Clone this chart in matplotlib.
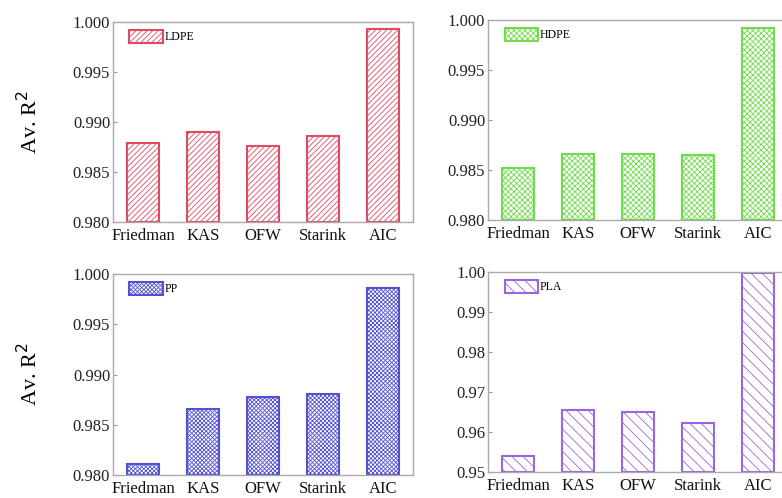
import matplotlib
matplotlib.use("Agg")
import matplotlib.pyplot as plt

plt.rcParams['font.family'] = ['Liberation Serif', 'DejaVu Serif']
plt.rcParams['hatch.linewidth'] = 0.6

metodos = ["Friedman", "KAS", "OFW", "Starink", "AIC"]

ldpe = [0.9879, 0.9890, 0.9876, 0.9886, 0.9993]
hdpe = [0.9852, 0.9866, 0.9866, 0.9865, 0.9992]
pp = [0.9811, 0.9866, 0.9878, 0.9881, 0.9986]
pla = [0.9540, 0.9656, 0.9650, 0.9623, 0.9998]

W, H = 782, 498
fig = plt.figure(figsize=(W / 100, H / 100), dpi=100)
serif = ['Liberation Serif', 'DejaVu Serif']


def caja(x0, x1, y0, y1):
    # pixeles -> fraccion de figura
    return [x0 / W, 1 - y1 / H, (x1 - x0) / W, (y1 - y0) / H]


paneles = [
    (caja(113, 413, 22, 222), ldpe, "LDPE", "#e24a64", "//////", (0.980, 1.000), 0.005, "%.3f", True),
    (caja(488, 788, 20, 220), hdpe, "HDPE", "#6fdc4c", "xxxxxx", (0.980, 1.000), 0.005, "%.3f", False),
    (caja(113, 413, 274, 475), pp, "PP", "#5252d2", "xxxxxxxx", (0.980, 1.000), 0.005, "%.3f", True),
    (caja(488, 788, 272, 472), pla, "PLA", "#9966df", "\\\\\\", (0.950, 1.000), 0.01, "%.2f", False),
]

for pos, datos, nombre, color, hatch, lim, paso, fmt, etiqueta in paneles:
    ax = fig.add_axes(pos)
    x = range(len(metodos))
    ax.bar(x, [d - lim[0] for d in datos], bottom=lim[0], width=0.52,
           facecolor="white", edgecolor=color, hatch=hatch, linewidth=1.5,
           label=nombre)
    ax.set_xlim(-0.5, 4.5)
    ax.set_ylim(*lim)
    ticks = [lim[0] + i * paso for i in range(int(round((lim[1] - lim[0]) / paso)) + 1)]
    ax.set_yticks(ticks)
    ax.set_yticklabels([fmt % t for t in ticks], fontsize=12, color="#222222", family=serif)
    ax.set_xticks(list(x))
    ax.set_xticklabels(metodos, fontsize=12, color="#111111", family=serif)
    ax.tick_params(axis="y", direction="in", length=3, color="#999999", pad=2)
    ax.tick_params(axis="x", length=0, pad=4)
    for s in ax.spines.values():
        s.set_color("#aaaaaa")
        s.set_linewidth(1.0)
    ax.legend(loc="upper left", bbox_to_anchor=(0.055, 0.96), frameon=False,
              fontsize=8.5, handlelength=2.8, handleheight=1.3,
              handletextpad=0.15, borderaxespad=0, borderpad=0)
    if etiqueta:
        ax.set_ylabel("Av. R$^2$", fontsize=16, labelpad=22)

fig.savefig("out.png", dpi=100)
